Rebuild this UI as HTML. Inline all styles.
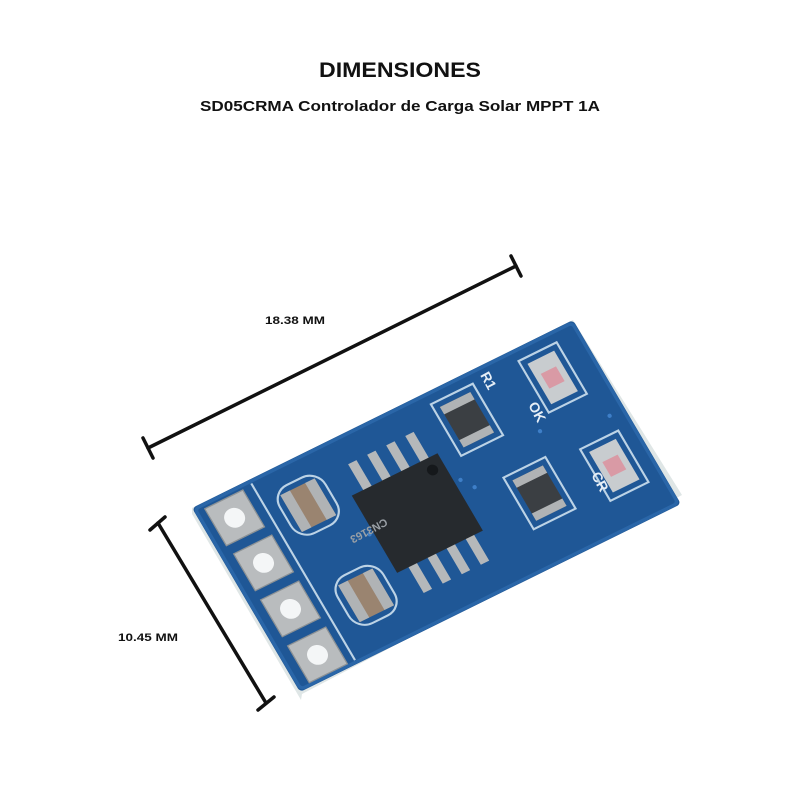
<!DOCTYPE html>
<html><head><meta charset="utf-8"><style>
html,body{margin:0;padding:0;background:#fff;}
svg{display:block;}
text{font-family:"Liberation Sans",sans-serif;font-weight:bold;}
.dk{fill:#111;}
.silk{fill:#e6eef6;}
</style></head><body>
<svg width="800" height="800" viewBox="0 0 800 800" xmlns="http://www.w3.org/2000/svg">
<rect width="800" height="800" fill="#fff"/>
<text class="dk" x="400" y="77" font-size="21" text-anchor="middle" textLength="162" lengthAdjust="spacingAndGlyphs">DIMENSIONES</text>
<text class="dk" x="400" y="111" font-size="15" text-anchor="middle" textLength="400" lengthAdjust="spacingAndGlyphs">SD05CRMA Controlador de Carga Solar MPPT 1A</text>
<text class="dk" x="295" y="324" font-size="11" text-anchor="middle" textLength="60" lengthAdjust="spacingAndGlyphs">18.38 MM</text>
<text class="dk" x="148" y="641" font-size="11" text-anchor="middle" textLength="60" lengthAdjust="spacingAndGlyphs">10.45 MM</text>
<g stroke="#111" stroke-width="3.5" stroke-linecap="round">
<line x1="148" y1="448" x2="516" y2="266"/>
<line x1="143" y1="438" x2="153" y2="458"/>
<line x1="511" y1="256" x2="521" y2="276"/>
<line x1="158" y1="523" x2="266" y2="703"/>
<line x1="150" y1="530" x2="165" y2="517"/>
<line x1="258" y1="710" x2="274" y2="697"/>
</g>
<polygon points="192,508 573,320 682,495 302,694 301,700 192,514" fill="#dfe6e6"/>
<g transform="matrix(3.81,-1.88,2.16,3.68,192,508)">
<rect x="0" y="0" width="100" height="50" rx="1" fill="#1f5796"/>
<rect x="0.5" y="0.5" width="99" height="49" rx="1" fill="none" stroke="#2a66a8" stroke-width="0.8"/>
<line x1="15" y1="1" x2="15" y2="49" stroke="#bcd3e6" stroke-width="0.5"/>
<g fill="#b9bcbe" stroke="#8d9295" stroke-width="0.3">
<rect x="2.5" y="1.5" width="10" height="10"/>
<rect x="3" y="14" width="10" height="10"/>
<rect x="3" y="26.5" width="10" height="10"/>
<rect x="3" y="39" width="10" height="10"/>
</g>
<g fill="#f4f6f7"><circle cx="7.5" cy="6.5" r="2.4"/><circle cx="8" cy="19" r="2.4"/><circle cx="8" cy="31.5" r="2.4"/><circle cx="8" cy="44" r="2.4"/></g>
<g fill="none" stroke="#bcd3e6" stroke-width="0.5">
<rect x="18" y="5" width="12" height="13" rx="4"/>
<rect x="19" y="30" width="12" height="13" rx="4"/>
<rect x="61" y="3" width="11" height="14"/>
<rect x="67" y="26" width="11" height="14"/>
<rect x="84" y="3" width="10" height="14"/>
<rect x="86" y="28" width="10" height="14"/>
</g>
<g>
<rect x="19.5" y="6.5" width="9" height="10" fill="#9a8470"/>
<rect x="19.5" y="6.5" width="2.5" height="10" fill="#b0b3b5"/><rect x="26" y="6.5" width="2.5" height="10" fill="#b0b3b5"/>
<rect x="20.5" y="31.5" width="9" height="10" fill="#9a8470"/>
<rect x="20.5" y="31.5" width="2.5" height="10" fill="#b0b3b5"/><rect x="27" y="31.5" width="2.5" height="10" fill="#b0b3b5"/>
</g>
<g fill="#b5b8ba">
<rect x="37" y="7" width="2.2" height="9"/><rect x="42" y="7" width="2.2" height="9"/><rect x="47" y="7" width="2.2" height="9"/><rect x="52" y="7" width="2.2" height="9"/>
<rect x="37" y="33" width="2.2" height="9"/><rect x="42" y="33" width="2.2" height="9"/><rect x="47" y="33" width="2.2" height="9"/><rect x="52" y="33" width="2.2" height="9"/>
</g>
<rect x="34" y="14" width="22.5" height="21" fill="#262a2e"/>
<circle cx="53.5" cy="17" r="1.3" fill="#15181b"/>
<rect x="62.5" y="4.5" width="8" height="11" fill="#3b3f43"/>
<rect x="62.5" y="4.5" width="8" height="2" fill="#b0b3b5"/><rect x="62.5" y="13.5" width="8" height="2" fill="#b0b3b5"/>
<rect x="68.5" y="27.5" width="8" height="11" fill="#3b3f43"/>
<rect x="68.5" y="27.5" width="8" height="2" fill="#b0b3b5"/><rect x="68.5" y="36.5" width="8" height="2" fill="#b0b3b5"/>
<rect x="85.5" y="4.5" width="7" height="11" fill="#c8cccf"/>
<rect x="87" y="8" width="4" height="4" fill="#d99aa5"/>
<rect x="87.5" y="29.5" width="7" height="11" fill="#c8cccf"/>
<rect x="89" y="33" width="4" height="4" fill="#d99aa5"/>
<g fill="#3e7fc8"><circle cx="33" cy="24" r="0.5"/><circle cx="58" cy="22" r="0.5"/><circle cx="60" cy="25" r="0.5"/><circle cx="80" cy="20" r="0.5"/><circle cx="96" cy="24" r="0.5"/></g>
</g>
<text class="silk" font-size="14" transform="translate(480,375) rotate(62)">R1</text>
<text class="silk" font-size="14" transform="translate(528,405) rotate(62)">OK</text>
<text class="silk" font-size="14" transform="translate(591,475) rotate(62)">CR</text>
<text font-size="11" style="fill:#9aa0a6" transform="translate(385,518) rotate(-28) scale(-1,-1)">CN3163</text>
</svg>
</body></html>
